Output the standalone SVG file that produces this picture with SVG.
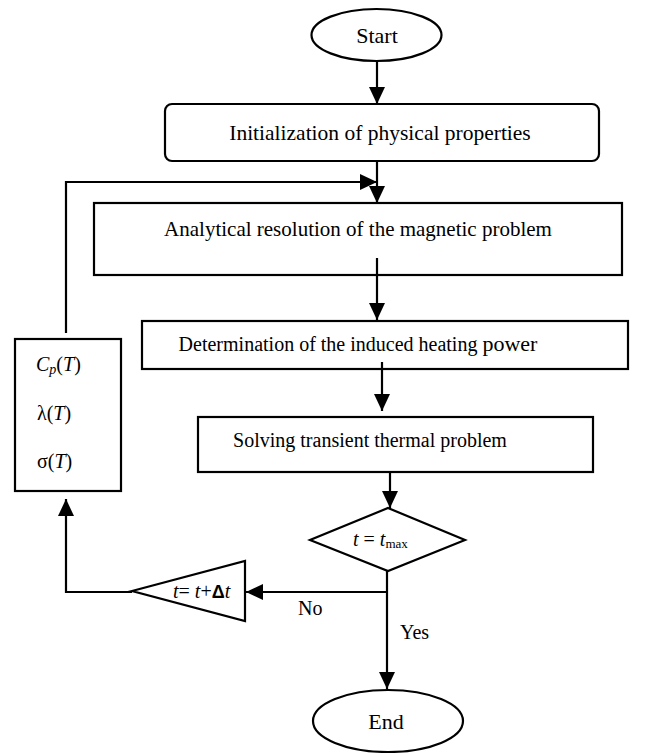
<svg xmlns="http://www.w3.org/2000/svg" width="651" height="753" viewBox="0 0 651 753">
<style>
.s{fill:#fff;stroke:#000;stroke-width:2.2}
.c{fill:none;stroke:#000;stroke-width:2.2}
text{font-family:"Liberation Serif","Times New Roman",serif;fill:#000}
.m{text-anchor:middle}
.i{font-style:italic}
</style>
<defs>
<marker id="ah" markerUnits="userSpaceOnUse" markerWidth="18" markerHeight="16" refX="17" refY="8" orient="auto">
<path d="M0,0 L17,8 L0,16 Z" fill="#000"/>
</marker>
</defs>
<rect width="651" height="753" fill="#fff"/>
<g id="start"><ellipse class="s" cx="376.5" cy="35" rx="65" ry="26"/><text class="m" x="377" y="43" font-size="22">Start</text></g>
<g id="init"><rect class="s" x="165" y="104" width="434" height="57" rx="7"/><text class="m" x="380" y="140" font-size="21.5">Initialization of physical properties</text></g>
<g id="magnetic"><rect class="s" x="94" y="203" width="528" height="72"/><text class="m" x="358" y="236" font-size="21">Analytical resolution of the magnetic problem</text></g>
<g id="power"><rect class="s" x="142" y="321" width="486" height="48"/><text class="m" x="358" y="351" font-size="20">Determination of the induced heating <tspan font-size="22">power</tspan></text></g>
<g id="thermal"><rect class="s" x="198" y="417" width="395" height="55"/><text class="m" x="370" y="447" font-size="20">Solving transient thermal problem</text></g>
<g id="decision"><polygon class="s" points="388,508 465,540 388,571 310,540"/><text x="353" y="546" font-size="20"><tspan class="i">t</tspan> = <tspan class="i">t</tspan><tspan font-size="13" dy="2">max</tspan></text></g>
<g id="increment"><polygon class="s" points="132,591 245,561 245,621"/><text x="173" y="598" font-size="20"><tspan class="i">t</tspan>= <tspan class="i">t</tspan>+<tspan font-family="Liberation Sans, Arial, sans-serif" font-weight="bold" font-size="18">Δ</tspan><tspan class="i">t</tspan></text></g>
<g id="properties"><rect class="s" x="15" y="339" width="106" height="152"/>
<text x="36" y="371" font-size="20"><tspan class="i">C</tspan><tspan class="i" font-size="14" dy="3">p</tspan><tspan dy="-3">(</tspan><tspan class="i">T</tspan>)</text>
<text x="37" y="420" font-size="20">λ(<tspan class="i">T</tspan>)</text>
<text x="37" y="468" font-size="20">σ(<tspan class="i">T</tspan>)</text></g>
<g id="end"><ellipse class="s" cx="388" cy="721" rx="75" ry="31"/><text class="m" x="386" y="729" font-size="22">End</text></g>
<g id="connectors">
<line class="c" x1="377" y1="61" x2="377" y2="104" marker-end="url(#ah)"/>
<line class="c" x1="377" y1="161" x2="377" y2="203" marker-end="url(#ah)"/>
<path class="c" d="M66,333 V182 H377" marker-end="url(#ah)"/>
<line class="c" x1="377" y1="258" x2="377" y2="320" marker-end="url(#ah)"/>
<line class="c" x1="382" y1="362" x2="382" y2="411" marker-end="url(#ah)"/>
<line class="c" x1="390" y1="472" x2="390" y2="508" marker-end="url(#ah)"/>
<line class="c" x1="387" y1="571" x2="387" y2="689" marker-end="url(#ah)"/>
<line class="c" x1="387" y1="592" x2="246" y2="592" marker-end="url(#ah)"/>
<path class="c" d="M132,592 H66 V499" marker-end="url(#ah)"/>
<text x="298" y="615" font-size="20">No</text>
<text x="400" y="639" font-size="20">Yes</text>
</g>
</svg>
